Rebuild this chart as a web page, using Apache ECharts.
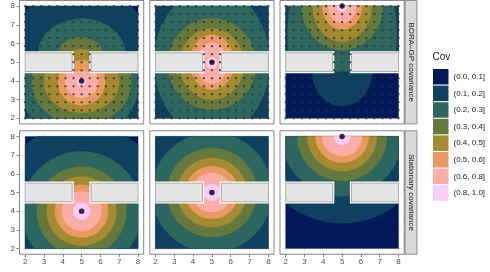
<!DOCTYPE html>
<html><head><meta charset="utf-8">
<script src="https://cdn.jsdelivr.net/npm/echarts@6/dist/echarts.min.js"></script>
<style>html,body{margin:0;padding:0;background:#fff}#c{width:490px;height:272px}</style>
</head><body><div id="c"></div>
<script>
// ---------- data ----------
const levelLabels = ['(0.0, 0.1]','(0.1, 0.2]','(0.2, 0.3]','(0.3, 0.4]','(0.4, 0.5]','(0.5, 0.6]','(0.6, 0.8]','(0.8, 1.0]'];
const levelColors = ['#011959','#10405f','#2d665e','#65793f','#a48b32','#ea9a61','#fbaea8','#f9ccf9'];
const xTicks = [2,3,4,5,6,7,8];
const yTicks = [2,3,4,5,6,7,8];
const minorTicks = [2.5,3.5,4.5,5.5,6.5,7.5];
const rowLabels = ['BORA\u2013GP covariance','Stationary covariance'];
const sourcePoints = [[5,4],[5,5],[5,8]];
// barrier rectangles: xmin, xmax, ymin, ymax
const barriers = [[2,4.5,4.5,5.5],[5.5,8,4.5,5.5]];
// reference-location grid coordinates (BORA-GP)
const refGrid = [2,2.429,2.857,3.286,3.714,4.143,4.571,5,5.429,5.857,6.286,6.714,7.143,7.571,8];
// stationary covariance: contour radius for levels 1..7
const stationaryRadii = [4.65,3.2,2.38,1.85,1.41,1.05,0.45];
// BORA-GP contour regions (cov above level): [level, cx, cy, rx, ry, yLow, yHigh]
const boraSource1 = [
  [1,4.95,5.5,3.68,3.68,5.5,8],[1,5,4,10,10,2,4.5],
  [2,5,5.5,2.3,1.83,5.5,8],[2,4.85,3.95,3.2,3.1,2,4.5],
  [3,4.95,5.5,1.15,0.83,5.5,8],[3,5,3.95,2.65,2.3,2,4.5],
  [4,5,5.0,0.9,0.7,4.5,8],[4,5,3.95,2.0,1.65,2,4.5],
  [5,5,4.4,1.0,0.7,4.5,5.5],[5,5,3.95,1.25,1.25,2,4.5],
  [6,5,3.95,0.88,0.85,2,4.5],
  [7,5,3.95,0.22,0.25,2,4.5]
];
const boraSource2 = [
  [1,5,5,10,10,2,8],
  [2,5,5,3.08,3.94,2,8],
  [3,5,4.9,2.35,2.45,2,8],
  [4,5,4.9,1.72,1.9,2,8],
  [5,5,5,1.17,1.47,2,8],
  [6,5,4.95,0.8,1.1,2,8],
  [7,5,4.95,0.3,0.3,2,8]
];
const boraSource3 = [
  [1,5,8,10,10,5.5,8],[1,5,4.5,1.6,1.85,2,4.5],
  [2,5,6.5,2.9,5,5.5,8],[2,5,5.5,0.8,1.3,4.5,5.5],
  [3,5,8,2.15,2.35,2,8],
  [4,5,8,1.57,1.9,2,8],
  [5,5,8,1.05,1.25,2,8],
  [6,5,8,0.75,0.9,2,8],
  [7,5,8,0.25,0.3,2,8]
];

// ---------- layout ----------
const FONT = 'Liberation Sans, Arial, sans-serif';
const colLefts = [19.5,149.8,280];
const panelW = 124.2;
const rowTops = [0.5,130.8];
const panelH = 123.4;
const axMin = 1.7, axMax = 8.3;
const rMin = refGrid[0], rMax = refGrid[refGrid.length-1];

function clipHalf(pts, axis, bound, keepGreater){
  const out = [];
  for (let i=0;i<pts.length;i++){
    const a = pts[i], b = pts[(i+1)%pts.length];
    const ina = keepGreater ? a[axis] >= bound : a[axis] <= bound;
    const inb = keepGreater ? b[axis] >= bound : b[axis] <= bound;
    if (ina) out.push(a);
    if (ina !== inb){
      const t = (bound - a[axis])/(b[axis]-a[axis]);
      out.push([a[0]+t*(b[0]-a[0]), a[1]+t*(b[1]-a[1])]);
    }
  }
  return out;
}
function clipBox(pts,x0,x1,y0,y1){
  pts = clipHalf(pts,0,x0,true); if(pts.length<3) return pts;
  pts = clipHalf(pts,0,x1,false); if(pts.length<3) return pts;
  pts = clipHalf(pts,1,y0,true); if(pts.length<3) return pts;
  pts = clipHalf(pts,1,y1,false);
  return pts;
}

function panelShapes(p){
  const base = [[0,5,5,10,10,rMin,rMax]];
  let s;
  if (p===0) s = boraSource1; else if (p===1) s = boraSource2; else if (p===2) s = boraSource3;
  else {
    const c = sourcePoints[p-3];
    s = stationaryRadii.map((r,i)=>[i+1,c[0],c[1],r,r,rMin,rMax]);
  }
  return base.concat(s).slice().sort((a,b)=>a[0]-b[0]);
}

const grids=[], xAxes=[], yAxes=[], series=[];
for (let r=0;r<2;r++){
  for (let c=0;c<3;c++){
    const p = r*3+c;
    grids.push({left:colLefts[c], top:rowTops[r], width:panelW, height:panelH, show:true,
      backgroundColor:'#fff', borderColor:'#333', borderWidth:0.6, containLabel:false});
    xAxes.push({gridIndex:p, type:'value', min:axMin, max:axMax,
      axisLine:{show:false}, splitLine:{show:false},
      axisTick:{show:r===1, customValues:xTicks, length:3, lineStyle:{color:'#333',width:0.6}},
      axisLabel:{show:r===1, customValues:xTicks, margin:4, fontSize:8, color:'#4d4d4d', fontFamily:FONT}});
    yAxes.push({gridIndex:p, type:'value', min:axMin, max:axMax,
      axisLine:{show:false}, splitLine:{show:false},
      axisTick:{show:c===0, customValues:yTicks, length:3, lineStyle:{color:'#333',width:0.6}},
      axisLabel:{show:c===0, customValues:yTicks, margin:4.5, fontSize:8, color:'#4d4d4d', fontFamily:FONT}});

    // background grid lines (theme_bw)
    const gl = xTicks.map(v=>[v,0]).concat(minorTicks.map(v=>[v,1]));
    series.push({type:'custom', xAxisIndex:p, yAxisIndex:p, silent:true, z:1, clip:false,
      data: gl, encode:{x:0},
      renderItem:(params,api)=>{
        const v = api.value(0), minor = api.value(1)===1;
        const cs = params.coordSys;
        const px = api.coord([v,5])[0], py = api.coord([5,v])[1];
        const st = {stroke: minor ? '#f5f5f5' : '#ebebeb', lineWidth: minor?0.4:0.7};
        return {type:'group', children:[
          {type:'line', shape:{x1:px,y1:cs.y,x2:px,y2:cs.y+cs.height}, style:st},
          {type:'line', shape:{x1:cs.x,y1:py,x2:cs.x+cs.width,y2:py}, style:st}
        ]};
      }});

    // contour bands
    const shapes = panelShapes(p);
    series.push({type:'custom', xAxisIndex:p, yAxisIndex:p, silent:true, z:2, clip:false,
      data: shapes, encode:{x:1,y:2},
      renderItem:(params,api)=>{
        const s = shapes[params.dataIndex];
        const [lvl,cx,cy,rx,ry,ylo,yhi] = s;
        let pts=[];
        const N=160;
        for(let k=0;k<N;k++){const t=2*Math.PI*k/N; pts.push([cx+rx*Math.cos(t), cy+ry*Math.sin(t)]);}
        pts = clipBox(pts, rMin, rMax, Math.max(ylo,rMin), Math.min(yhi,rMax));
        if (pts.length<3) return null;
        return {type:'polygon', z2:lvl, shape:{points:pts.map(q=>api.coord(q))},
          style:{fill:levelColors[lvl], stroke:levelColors[lvl], lineWidth:0.3}};
      }});

    // barriers
    series.push({type:'custom', xAxisIndex:p, yAxisIndex:p, silent:true, z:3, clip:false,
      data: barriers, encode:{x:0,y:2},
      renderItem:(params,api)=>{
        const b = barriers[params.dataIndex];
        const p0 = api.coord([b[0],b[3]]), p1 = api.coord([b[1],b[2]]);
        const sh = {x:p0[0], y:p0[1], width:p1[0]-p0[0], height:p1[1]-p0[1]};
        return {type:'group', children:[
          {type:'rect', shape:sh, style:{fill:'#fff', stroke:'#fff', lineWidth:3.2}},
          {type:'rect', shape:sh, style:{fill:'#e5e5e5', stroke:'#9a9a9a', lineWidth:0.8}}
        ]};
      }});

    // reference locations (BORA-GP only)
    if (r===0){
      const pts=[];
      refGrid.forEach(x=>refGrid.forEach(y=>{
        const inside = barriers.some(b=>x>=b[0]&&x<=b[1]&&y>=b[2]&&y<=b[3]);
        if(!inside) pts.push([x,y]);
      }));
      series.push({type:'scatter', xAxisIndex:p, yAxisIndex:p, silent:true, z:4, clip:false,
        symbol:'rect', symbolSize:2, itemStyle:{color:'#333', opacity:0.85}, data:pts});
    }
    // source location
    series.push({type:'scatter', xAxisIndex:p, yAxisIndex:p, silent:true, z:5, clip:false,
      symbol:'circle', symbolSize:5.5, itemStyle:{color:'#000'}, data:[sourcePoints[c]]});
  }
}
// legend carrier series
levelLabels.forEach((lab,i)=>{
  series.push({type:'custom', name:lab, xAxisIndex:0, yAxisIndex:0, data:[], itemStyle:{color:levelColors[i]},
    renderItem:()=>null});
});

// strips
const graphics=[];
rowLabels.forEach((lab,r)=>{
  graphics.push({type:'rect', shape:{x:405, y:rowTops[r], width:12, height:panelH},
    style:{fill:'#d9d9d9', stroke:'#555', lineWidth:0.6}, silent:true});
  graphics.push({type:'text', x:411, y:rowTops[r]+panelH/2, rotation:-Math.PI/2,
    style:{text:lab, fill:'#1a1a1a', font:'8px '+FONT, align:'center', verticalAlign:'middle'}, silent:true});
});

const chart = echarts.init(document.getElementById('c'), null, {renderer:'canvas'});
chart.setOption({
  animation:false,
  backgroundColor:'#fff',
  title:{text:'Cov', left:432.5, top:52, padding:0, textStyle:{fontSize:10, fontWeight:'normal', color:'#1a1a1a', fontFamily:FONT}},
  legend:{orient:'vertical', left:433, top:69, itemWidth:15.5, itemHeight:15.5, itemGap:1.1, icon:'rect',
    selectedMode:false, padding:0, data:levelLabels,
    textStyle:{fontSize:8, color:'#1a1a1a', fontFamily:FONT}},
  grid:grids, xAxis:xAxes, yAxis:yAxes, series:series, graphic:graphics
});
</script></body></html>
